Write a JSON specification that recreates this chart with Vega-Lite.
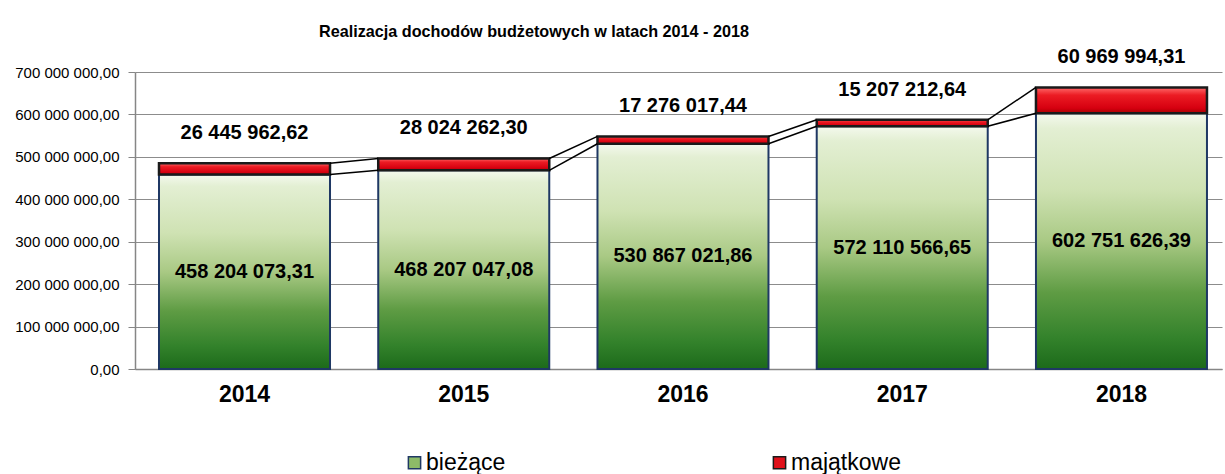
{
  "$schema": "https://vega.github.io/schema/vega-lite/v6.json",
  "width": 1087,
  "height": 297,
  "autosize": {"type": "none"},
  "padding": {"left": 135, "top": 72, "right": 3, "bottom": 105},
  "config": {
    "locale": {"number": {"decimal": ",", "thousands": " ", "grouping": [3], "currency": ["", ""]}},
    "view": {"stroke": null},
    "font": "Liberation Sans",
    "axisX": {"labelAngle": 0, "labelFontSize": 23, "labelFontWeight": "bold", "labelColor": "#000000", "ticks": false, "domainColor": "#868686", "domainWidth": 1.5, "labelPadding": 14, "grid": false, "labelFont": "Liberation Sans"},
    "axisY": {"labelFontSize": 15, "labelColor": "#000000", "tickSize": 7, "labelPadding": 9, "domainColor": "#868686", "tickColor": "#868686", "gridColor": "#8c8c8c", "grid": true, "labelFont": "Liberation Sans", "domainWidth": 1.5, "labelOverlap": false}
  },
  "title": {"text": "Realizacja dochodów budżetowych w latach 2014 - 2018", "fontSize": 16.2, "fontWeight": "bold", "font": "Liberation Sans", "color": "#000000", "anchor": "start", "frame": "group", "dx": 184, "offset": 7},
  "datasets": {
    "main": [
      {"year": "2014", "series": "bieżące", "value": 458204073.31},
      {"year": "2014", "series": "majątkowe", "value": 26445962.62},
      {"year": "2015", "series": "bieżące", "value": 468207047.08},
      {"year": "2015", "series": "majątkowe", "value": 28024262.30},
      {"year": "2016", "series": "bieżące", "value": 530867021.86},
      {"year": "2016", "series": "majątkowe", "value": 17276017.44},
      {"year": "2017", "series": "bieżące", "value": 572110566.65},
      {"year": "2017", "series": "majątkowe", "value": 15207212.64},
      {"year": "2018", "series": "bieżące", "value": 602751626.39},
      {"year": "2018", "series": "majątkowe", "value": 60969994.31}
    ],
    "lines": [
      {"year": "2014", "to": "2015", "y1": 458204073.31, "y2": 468207047.08},
      {"year": "2014", "to": "2015", "y1": 484650035.93, "y2": 496231309.38},
      {"year": "2015", "to": "2016", "y1": 468207047.08, "y2": 530867021.86},
      {"year": "2015", "to": "2016", "y1": 496231309.38, "y2": 548143039.30},
      {"year": "2016", "to": "2017", "y1": 530867021.86, "y2": 572110566.65},
      {"year": "2016", "to": "2017", "y1": 548143039.30, "y2": 587317779.29},
      {"year": "2017", "to": "2018", "y1": 572110566.65, "y2": 602751626.39},
      {"year": "2017", "to": "2018", "y1": 587317779.29, "y2": 663721620.70}
    ]
  },
  "layer": [
    {
      "layer": [
        {
          "data": {"name": "main"},
          "transform": [{"stack": "value", "groupby": ["year"], "sort": [{"field": "series", "order": "ascending"}], "as": ["v0", "v1"]}],
          "mark": {"type": "bar", "strokeWidth": 0},
          "encoding": {
            "x": {"field": "year", "type": "ordinal", "scale": {"paddingInner": 0.22, "paddingOuter": 0.089, "align": 0.615}, "axis": {"title": null}},
            "y": {"field": "v1", "type": "quantitative", "scale": {"domain": [0, 700000000], "nice": false}, "axis": {"title": null, "format": ",.2f", "values": [0, 100000000, 200000000, 300000000, 400000000, 500000000, 600000000, 700000000]}},
            "y2": {"field": "v0"},
            "fill": {
              "field": "series", "type": "nominal",
              "scale": {"domain": ["bieżące", "majątkowe"], "range": ["#8dbb68", "#e0101a"]},
              "legend": {
                "title": null, "orient": "none", "legendX": 268, "legendY": 379, "direction": "horizontal", "columns": 2, "columnPadding": 262,
                "symbolType": "square", "symbolSize": 150, "symbolStrokeWidth": 1.5, "symbolStrokeColor": "#1f3864", "labelFontSize": 23, "labelFont": "Liberation Sans", "labelColor": "#000000", "labelOffset": 0,
                "encode": {"symbols": {"update": {
                  "fill": [
                    {"test": "datum.label === 'bieżące'", "value": {"gradient": "linear", "x1": 0, "y1": 0, "x2": 0, "y2": 1, "stops": [{"offset": 0, "color": "#eef6e4"}, {"offset": 0.5, "color": "#a9c984"}, {"offset": 1, "color": "#2e7d2a"}]}},
                    {"value": {"gradient": "linear", "x1": 0, "y1": 0, "x2": 0, "y2": 1, "stops": [{"offset": 0, "color": "#ff6a6a"}, {"offset": 0.5, "color": "#e0101a"}, {"offset": 1, "color": "#a80000"}]}}
                  ],
                  "stroke": [{"test": "datum.label === 'bieżące'", "value": "#1f3864"}, {"value": "#1a1a1a"}]
                }}}
              }
            }
          }
        },
        {
          "data": {"name": "main"},
          "transform": [{"stack": "value", "groupby": ["year"], "sort": [{"field": "series", "order": "ascending"}], "as": ["v0", "v1"]}, {"filter": "datum.series === 'bieżące'"}],
          "mark": {"type": "bar", "strokeWidth": 2, "stroke": "#1f3864", "fill": {"gradient": "linear", "x1": 0, "y1": 0, "x2": 0, "y2": 1, "stops": [{"offset": 0, "color": "#f4f9ee"}, {"offset": 0.06, "color": "#e3efd3"}, {"offset": 0.3, "color": "#cfe2b3"}, {"offset": 0.5, "color": "#a9c984"}, {"offset": 0.7, "color": "#5f9c44"}, {"offset": 0.88, "color": "#33822b"}, {"offset": 1, "color": "#1c6a1a"}]}},
          "encoding": {
            "x": {"field": "year", "type": "ordinal", "axis": {"title": null}},
            "y": {"field": "v1", "type": "quantitative", "axis": {"title": null, "format": ",.2f", "values": [0, 100000000, 200000000, 300000000, 400000000, 500000000, 600000000, 700000000]}},
            "y2": {"field": "v0"}
          }
        },
        {
          "data": {"name": "main"},
          "transform": [{"stack": "value", "groupby": ["year"], "sort": [{"field": "series", "order": "ascending"}], "as": ["v0", "v1"]}, {"filter": "datum.series === 'majątkowe'"}],
          "mark": {"type": "bar", "strokeWidth": 2.5, "stroke": "#1a1a1a", "fill": {"gradient": "linear", "x1": 0, "y1": 0, "x2": 0, "y2": 1, "stops": [{"offset": 0, "color": "#ff6a6a"}, {"offset": 0.3, "color": "#ec1c24"}, {"offset": 0.8, "color": "#d60010"}, {"offset": 1, "color": "#a80000"}]}},
          "encoding": {
            "x": {"field": "year", "type": "ordinal", "axis": {"title": null}},
            "y": {"field": "v1", "type": "quantitative", "axis": {"title": null, "format": ",.2f", "values": [0, 100000000, 200000000, 300000000, 400000000, 500000000, 600000000, 700000000]}},
            "y2": {"field": "v0"}
          }
        },
        {
          "data": {"name": "lines"},
          "mark": {"type": "rule", "color": "#000000", "strokeWidth": 1.5},
          "encoding": {
            "x": {"field": "year", "type": "ordinal", "bandPosition": 1, "axis": {"title": null}},
            "x2": {"field": "to", "bandPosition": 0},
            "y": {"field": "y1", "type": "quantitative", "axis": {"title": null, "format": ",.2f", "values": [0, 100000000, 200000000, 300000000, 400000000, 500000000, 600000000, 700000000]}},
            "y2": {"field": "y2"}
          }
        },
        {
          "data": {"name": "main"},
          "transform": [{"stack": "value", "groupby": ["year"], "sort": [{"field": "series", "order": "ascending"}], "as": ["v0", "v1"]}, {"filter": "datum.series === 'majątkowe'"}],
          "mark": {"type": "text", "fontSize": 20, "fontWeight": "bold", "font": "Liberation Sans", "baseline": "middle", "dy": -30, "color": "#000000"},
          "encoding": {
            "x": {"field": "year", "type": "ordinal", "axis": {"title": null}},
            "y": {"field": "v1", "type": "quantitative", "axis": {"title": null, "format": ",.2f", "values": [0, 100000000, 200000000, 300000000, 400000000, 500000000, 600000000, 700000000]}},
            "text": {"field": "value", "type": "quantitative", "format": ",.2f"}
          }
        }
      ]
    },
    {
      "data": {"name": "main"},
      "transform": [{"filter": "datum.series === 'bieżące'"}],
      "mark": {"type": "text", "fontSize": 20, "fontWeight": "bold", "font": "Liberation Sans", "baseline": "middle", "color": "#000000"},
      "encoding": {
        "x": {"field": "year", "type": "ordinal", "axis": {"title": null}},
        "y": {"field": "value", "type": "quantitative", "scale": {"domain": [0, 1400000000], "nice": false}, "axis": null},
        "text": {"field": "value", "type": "quantitative", "format": ",.2f"}
      }
    }
  ],
  "resolve": {"scale": {"y": "independent"}}
}
